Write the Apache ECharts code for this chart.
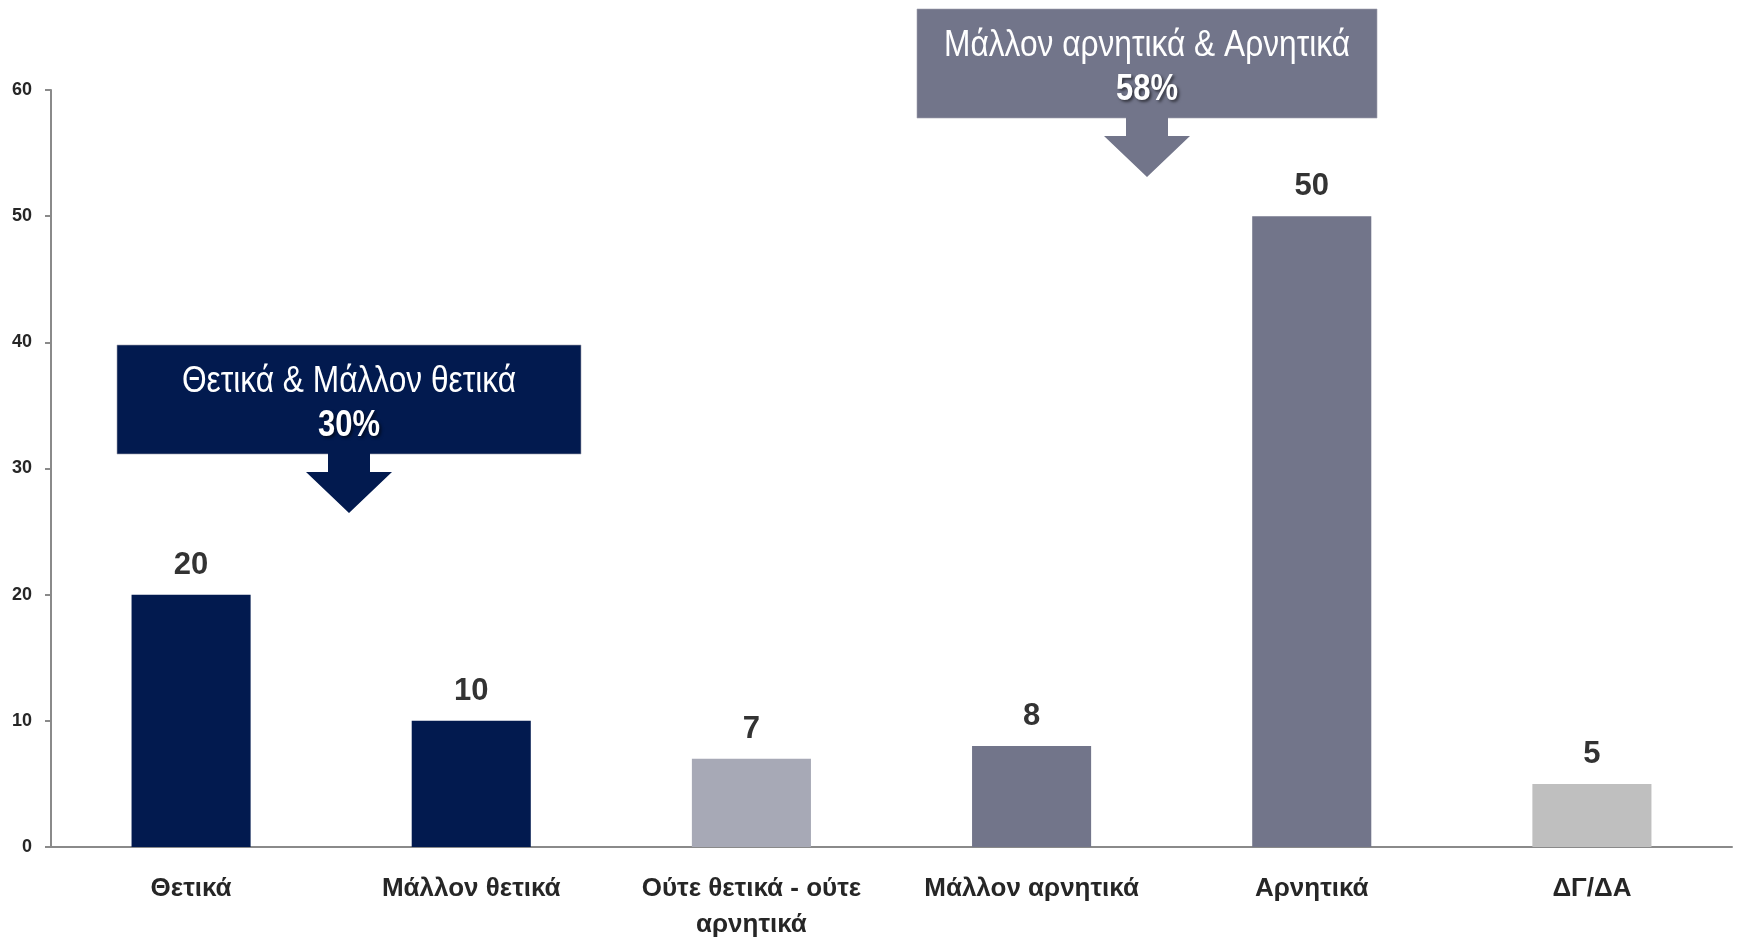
<!DOCTYPE html>
<html>
<head>
  <meta charset="UTF-8">
  <title>Θετικά / Αρνητικά</title>
  <style>
    html, body { margin: 0; padding: 0; background: #fff; }
    #main { width: 1740px; height: 940px; }
  </style>
</head>
<body>
<div id="main"></div>
<script src="https://cdn.jsdelivr.net/npm/echarts@6/dist/echarts.min.js"></script>
<script>
  // δεδομένα
  let categories = ['Θετικά', 'Μάλλον θετικά', 'Ούτε θετικά - ούτε\nαρνητικά', 'Μάλλον αρνητικά', 'Αρνητικά', 'ΔΓ/ΔΑ'];
  let values = [20, 10, 7, 8, 50, 5];
  let groupNames = ['Θετικά & Μάλλον θετικά', 'Μάλλον αρνητικά & Αρνητικά'];
  let groupTotals = ['30%', '58%'];
  let yTicks = [0, 10, 20, 30, 40, 50, 60];

  let barColors = ['#021a4f', '#021a4f', '#a7a9b6', '#72758a', '#72758a', '#bfbfbf'];
  let sans = '"Liberation Sans", Arial, sans-serif';

  let myChart = echarts.init(document.getElementById('main'), null, {renderer: 'canvas'});

  // πλαίσιο με βέλος (το κείμενο στενεύει οριζόντια σαν Arial Narrow)
  function callout(x0, y0, w, h, color, title, total) {
    let cx = x0 + w / 2;
    let yb = y0 + h;
    return [{
      type: 'rect',
      shape: {x: x0, y: y0, width: w, height: h},
      style: {fill: color, stroke: 'rgba(160,160,175,0.6)', lineWidth: 1}
    }, {
      type: 'polygon',
      shape: {points: [[cx - 21, yb - 1], [cx + 21, yb - 1], [cx + 21, yb + 18], [cx + 43, yb + 18],
                       [cx, yb + 59], [cx - 43, yb + 18], [cx - 21, yb + 18]]},
      style: {fill: color}
    }, {
      type: 'text',
      x: cx, y: y0 + 37, scaleX: 0.88,
      style: {text: title, fill: '#fff', font: '36px ' + sans, align: 'center', verticalAlign: 'middle'}
    }, {
      type: 'text',
      x: cx, y: y0 + 81, scaleX: 0.86,
      style: {text: total, fill: '#fff', font: 'bold 36px ' + sans, align: 'center', verticalAlign: 'middle',
              textShadowColor: 'rgba(0,0,0,0.55)', textShadowBlur: 3, textShadowOffsetX: 2, textShadowOffsetY: 2}
    }];
  }

  let option = {
    animation: false,
    grid: {left: 51, right: 8, top: 90, bottom: 93, containLabel: false, outerBoundsMode: 'none'},
    xAxis: {
      type: 'category',
      data: categories,
      axisLine: {lineStyle: {color: '#8a8a8a', width: 2}},
      axisTick: {length: 8, lineStyle: {color: '#8a8a8a', width: 2}},
      axisLabel: {
        interval: 0, margin: 24, color: '#262626',
        fontFamily: sans, fontWeight: 'bold', fontSize: 26, lineHeight: 36
      }
    },
    yAxis: {
      type: 'value',
      min: yTicks[0], max: yTicks[yTicks.length - 1], interval: 10,
      axisLine: {show: true, lineStyle: {color: '#8a8a8a', width: 2}},
      axisTick: {show: true, length: 6, lineStyle: {color: '#8a8a8a', width: 2}},
      splitLine: {show: false},
      axisLabel: {margin: 19, color: '#262626', fontFamily: sans, fontWeight: 'bold', fontSize: 18}
    },
    series: [{
      type: 'bar',
      barWidth: '42.5%',
      data: values.map(function (v, i) {
        return {value: v, itemStyle: {color: barColors[i]}};
      }),
      label: {
        show: true, position: 'top', distance: 14,
        color: '#333', fontFamily: sans, fontWeight: 'bold', fontSize: 31
      }
    }],
    graphic: callout(117, 345, 464, 109, '#021a4f', groupNames[0], groupTotals[0])
      .concat(callout(917, 9, 460, 109, '#72758a', groupNames[1], groupTotals[1]))
  };

  myChart.setOption(option);
</script>
</body>
</html>
